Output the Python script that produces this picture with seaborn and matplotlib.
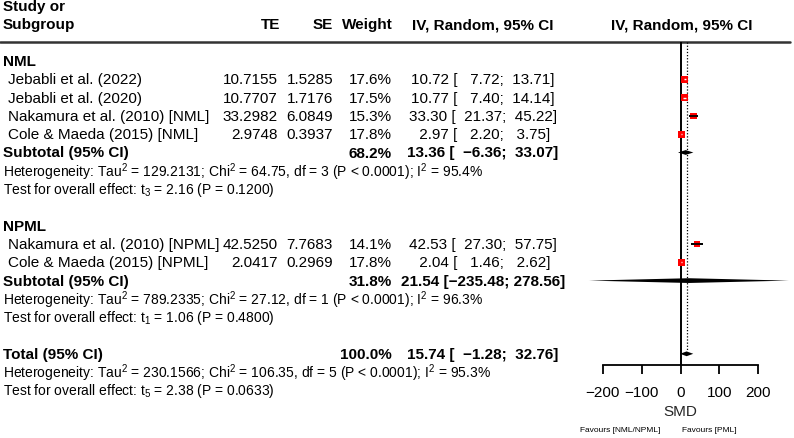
import numpy as np
import pandas as pd
import seaborn as sns
import matplotlib.pyplot as plt

sns.set_theme(style="white")
plt.rcParams['font.family'] = ['Liberation Sans', 'DejaVu Sans']

# study level data
groups = ["NML", "NPML"]
studies = ["Jebabli et al. (2022)", "Jebabli et al. (2020)",
           "Nakamura et al. (2010) [NML]", "Cole & Maeda (2015) [NML]",
           "Nakamura et al. (2010) [NPML]", "Cole & Maeda (2015) [NPML]"]
study_group = ["NML", "NML", "NML", "NML", "NPML", "NPML"]
te = [10.7155, 10.7707, 33.2982, 2.9748, 42.5250, 2.0417]
se = [1.5285, 1.7176, 6.0849, 0.3937, 7.7683, 0.2969]
weight = [17.6, 17.5, 15.3, 17.8, 14.1, 17.8]
est = [10.72, 10.77, 33.30, 2.97, 42.53, 2.04]
ci_lo = [7.72, 7.40, 21.37, 2.20, 27.30, 1.46]
ci_hi = [13.71, 14.14, 45.22, 3.75, 57.75, 2.62]

# subgroup pooled results
sub_weight = [68.2, 31.8]
sub_est = [13.36, 21.54]
sub_lo = [-6.36, -235.48]
sub_hi = [33.07, 278.56]
sub_het = [r"Tau$^{\mathregular{2}}$ = 129.2131; Chi$^{\mathregular{2}}$ = 64.75, df = 3 (P < 0.0001); I$^{\mathregular{2}}$ = 95.4%",
           r"Tau$^{\mathregular{2}}$ = 789.2335; Chi$^{\mathregular{2}}$ = 27.12, df = 1 (P < 0.0001); I$^{\mathregular{2}}$ = 96.3%"]
sub_test = [r"t$_{\mathregular{3}}$ = 2.16 (P = 0.1200)",
            r"t$_{\mathregular{1}}$ = 1.06 (P = 0.4800)"]

# overall
tot_weight = 100.0
tot_est, tot_lo, tot_hi = 15.74, -1.28, 32.76
tot_het = r"Tau$^{\mathregular{2}}$ = 230.1566; Chi$^{\mathregular{2}}$ = 106.35, df = 5 (P < 0.0001); I$^{\mathregular{2}}$ = 95.3%"
tot_test = r"t$_{\mathregular{5}}$ = 2.38 (P = 0.0633)"

ticks = [-200, -100, 0, 100, 200]

FS = 11
FS_HET = 10
fig = plt.figure(figsize=(7.94, 4.39), dpi=100)
W, H = 794, 439
row0, rowh = 62, 18.3
ylim = ((H - row0) / rowh, -row0 / rowh)

ax_t = fig.add_axes([0, 0, 1, 1])
ax_t.set_xlim(0, W)
ax_t.set_ylim(*ylim)
ax_t.axis('off')

zero_px, scale = 680.5, 0.389
left_px = 585
ax_f = fig.add_axes([left_px / W, 0, (W - left_px) / W, 1])
ax_f.set_xlim((left_px - zero_px) / scale, (W - zero_px) / scale)
ax_f.set_ylim(*ylim)
ax_f.patch.set_alpha(0)


def fmt(v, w=0):
    s = f"{abs(v):.2f}"
    if v < 0:
        s = "\u2212" + s
    return s.rjust(w)


def ci_text(e, lo, hi):
    return f"{fmt(e, 5)} [{fmt(lo, 7)}; {fmt(hi, 6)}]"


def txt(x, y, s, ha='left', bold=False, size=FS):
    ax_t.text(x, y, s, ha=ha, va='center', fontsize=size,
              fontweight='bold' if bold else 'normal', color='black')


def diamond(e, lo, hi, y, h=0.13):
    ax_f.fill([lo, e, hi, e], [y, y - h, y, y + h], color='black', lw=0)


# header
txt(3, -3.0, "Study or", bold=True)
txt(3, -2.0, "Subgroup", bold=True)
txt(280, -2.0, "TE", ha='right', bold=True)
txt(333, -2.0, "SE", ha='right', bold=True)
txt(393, -2.0, "Weight", ha='right', bold=True)
txt(483, -2.0, "IV, Random, 95% CI", ha='center', bold=True)
txt(681.5, -2.0, "IV, Random, 95% CI", ha='center', bold=True)
head_y = (43 - row0) / rowh
ax_t.plot([0, 790], [head_y, head_y], color='#333333', lw=1.8)

rows = []
r = 0
for gi, g in enumerate(groups):
    txt(3, r, g, bold=True)
    r += 1
    for i, s in enumerate(studies):
        if study_group[i] != g:
            continue
        txt(8, r, s)
        txt(278, r, f"{te[i]:.4f}", ha='right')
        txt(333, r, f"{se[i]:.4f}", ha='right')
        txt(392, r, f"{weight[i]:.1f}%", ha='right')
        txt(483, r, ci_text(est[i], ci_lo[i], ci_hi[i]), ha='center')
        rows.append(r)
        r += 1
    txt(3, r, "Subtotal (95% CI)", bold=True)
    txt(392, r, f"{sub_weight[gi]:.1f}%", ha='right', bold=True)
    txt(483, r, ci_text(sub_est[gi], sub_lo[gi], sub_hi[gi]), ha='center', bold=True)
    diamond(sub_est[gi], sub_lo[gi], sub_hi[gi], r)
    txt(3, r + 1, "Heterogeneity: " + sub_het[gi], size=FS_HET)
    txt(3, r + 2, "Test for overall effect: " + sub_test[gi], size=FS_HET)
    r += 4

txt(3, r, "Total (95% CI)", bold=True)
txt(392, r, f"{tot_weight:.1f}%", ha='right', bold=True)
txt(483, r, ci_text(tot_est, tot_lo, tot_hi), ha='center', bold=True)
diamond(tot_est, tot_lo, tot_hi, r)
txt(3, r + 1, "Heterogeneity: " + tot_het, size=FS_HET)
txt(3, r + 2, "Test for overall effect: " + tot_test, size=FS_HET)
total_row = r

# forest: reference lines
axis_y = (366 - row0) / rowh
ax_f.vlines(0, head_y, axis_y, color='black', lw=1.4, zorder=1)
ax_f.vlines(tot_est, head_y, total_row - 0.2, color='black', lw=0.9,
            linestyles=(0, (1, 1.5)), zorder=1)

# study boxes and CIs
df = pd.DataFrame({"te": te, "row": rows, "weight": weight,
                   "lo": ci_lo, "hi": ci_hi})
ax_f.hlines(df["row"], df["lo"], df["hi"], color='black', lw=1.3, zorder=2)
sns.scatterplot(data=df, x="te", y="row", size="weight", sizes=(0, 28),
                size_norm=(0, 20), marker='s', color='red', linewidth=0,
                legend=False, ax=ax_f, zorder=3)
box_px = 6.5
for _, d in df.iterrows():
    if (d["hi"] - d["lo"]) * scale < box_px:
        ax_f.hlines(d["row"], d["lo"], d["hi"], color='white', lw=1, zorder=4)
    else:
        ax_f.hlines(d["row"], d["lo"], d["hi"], color='black', lw=1.3, zorder=4)

# x axis
for sp in ['top', 'left', 'right']:
    ax_f.spines[sp].set_visible(False)
ax_f.spines['bottom'].set_position(('data', axis_y))
ax_f.spines['bottom'].set_bounds(-200, 200)
ax_f.spines['bottom'].set_color('black')
ax_f.spines['bottom'].set_linewidth(1.3)
ax_f.set_xticks(ticks)
ax_f.tick_params(axis='x', direction='out', length=6.5, width=1.3,
                 labelsize=FS, pad=8, bottom=True, colors='black')
ax_f.set_yticks([])
ax_f.set_xlabel('')
ax_f.set_ylabel('')
ax_f.text(0, (412 - row0) / rowh, "SMD", ha='center', va='center', fontsize=FS)

txt(660, (431 - row0) / rowh, "Favours [NML/NPML]", ha='right', size=6)
txt(682, (431 - row0) / rowh, "Favours [PML]", size=6)

fig.savefig("out.png", dpi=100)
